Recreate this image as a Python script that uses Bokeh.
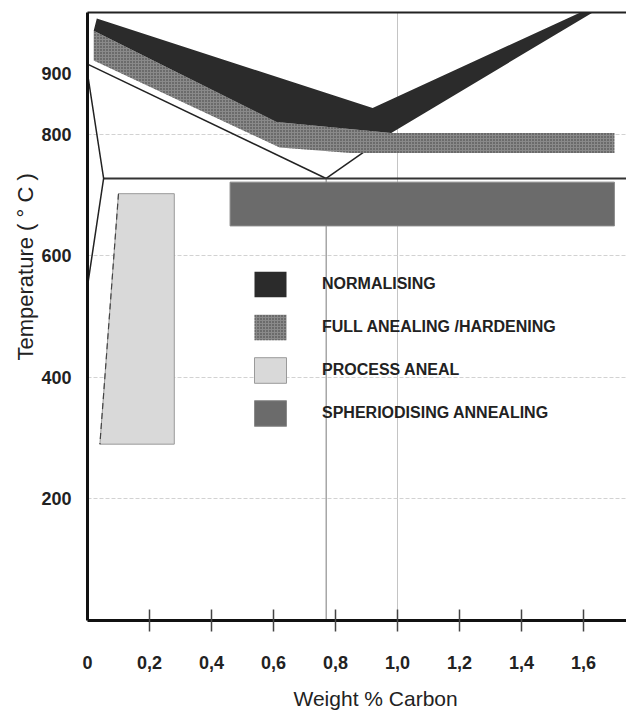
from bokeh.plotting import figure
from bokeh.models import Range1d, FixedTicker, LinearAxis, Legend, LegendItem, Title
from bokeh.embed import file_html
from bokeh.resources import INLINE

# ---- data (weight % carbon, temperature in deg C) ----
normalising_x = [0.03, 0.92, 1.59, 1.63, 0.98, 0.61, 0.02]
normalising_t = [990, 843, 1000, 1000, 802, 820, 970]

full_anneal_x = [0.02, 0.61, 0.98, 1.70, 1.70, 0.85, 0.62, 0.02]
full_anneal_t = [970, 820, 802, 802, 769, 769, 778, 921]

process_x = [0.10, 0.28, 0.28, 0.04]
process_t = [702, 702, 290, 290]

spheroid_left, spheroid_right = 0.46, 1.70
spheroid_bottom, spheroid_top = 649, 721

a3_x = [0.0, 0.77]
a3_t = [915, 727]
acm_x = [0.77, 0.98]
acm_t = [727, 802]
a1_x = [0.052, 1.75]
a1_t = [727, 727]
ferrite_x = [0.0, 0.052, 0.0]
ferrite_t = [900, 727, 550]
eutectoid_x = [0.77, 0.77]
eutectoid_t = [0, 727]

x_ticks = [0, 0.2, 0.4, 0.6, 0.8, 1.0, 1.2, 1.4, 1.6]
x_tick_labels = ["0", "0,2", "0,4", "0,6", "0,8", "1,0", "1,2", "1,4", "1,6"]
y_ticks = [200, 400, 600, 800, 900]
y_grid = [200, 400, 600, 800]
x_grid = [1.0]

legend_labels = ["NORMALISING", "FULL ANEALING /HARDENING", "PROCESS ANEAL",
                 "SPHERIODISING ANNEALING"]

FONT = "Liberation Sans"

p = figure(width=626, height=723, x_range=Range1d(0, 1.739), y_range=Range1d(0, 1000),
           output_backend="svg", toolbar_location=None,
           min_border_left=87, min_border_right=0, min_border_top=12, min_border_bottom=101)
p.outline_line_color = None
p.background_fill_color = "white"

# grids
p.xgrid.ticker = FixedTicker(ticks=x_grid)
p.xgrid.grid_line_color = "#c4c4c4"
p.xgrid.grid_line_width = 1
p.ygrid.ticker = FixedTicker(ticks=y_grid)
p.ygrid.grid_line_color = "#d2d2d2"
p.ygrid.grid_line_dash = "4 2"

# x axis
xa = p.xaxis[0]
xa.ticker = FixedTicker(ticks=x_ticks, minor_ticks=x_ticks[1:])
xa.major_label_overrides = {t: l for t, l in zip(x_ticks, x_tick_labels)}
xa.axis_line_width = 3
xa.axis_line_color = "#111111"
xa.major_tick_in = 0
xa.major_tick_out = 0
xa.minor_tick_in = 11
xa.minor_tick_out = 11
xa.minor_tick_line_color = "#444444"
xa.minor_tick_line_width = 1.5
xa.major_label_standoff = 24
xa.major_label_text_font = FONT
xa.major_label_text_font_style = "bold"
xa.major_label_text_font_size = "18px"
xa.major_label_text_color = "#222222"

# y axis
ya = p.yaxis[0]
ya.ticker = FixedTicker(ticks=y_ticks)
ya.axis_line_width = 3
ya.axis_line_color = "#111111"
ya.major_tick_in = 0
ya.major_tick_out = 0
ya.minor_tick_line_color = None
ya.major_label_standoff = 16
ya.major_label_text_font = FONT
ya.major_label_text_font_style = "bold"
ya.major_label_text_font_size = "18px"
ya.major_label_text_color = "#222222"

# top frame line
top = LinearAxis(ticker=FixedTicker(ticks=[]), axis_line_width=2, axis_line_color="#222222",
                 major_tick_line_color=None, minor_tick_line_color=None,
                 major_label_text_font_size="0px", major_label_standoff=0)
p.add_layout(top, "above")

# axis titles
xt = Title(text="Weight % Carbon", align="left", offset=206, text_font=FONT,
           text_font_size="21px", text_font_style="normal", text_color="#222222", standoff=27)
p.add_layout(xt, "below")
yt = Title(text="Temperature ( \u00b0 C )", align="left", offset=260, text_font=FONT,
           text_font_size="22px", text_font_style="normal", text_color="#222222", standoff=2)
p.add_layout(yt, "left")

# phase boundary lines
p.line(eutectoid_x, eutectoid_t, line_color="#7a7a7a", line_width=1)
p.line(a3_x, a3_t, line_color="#222222", line_width=1.5)
p.line(acm_x, acm_t, line_color="#222222", line_width=1.5)
p.line(a1_x, a1_t, line_color="#333333", line_width=2)
p.line(ferrite_x, ferrite_t, line_color="#222222", line_width=1.5)

# regions
r_proc = p.patch(process_x, process_t, fill_color="#d9d9d9", line_color="#9a9a9a", line_width=1)
p.line([process_x[0], process_x[3]], [process_t[0], process_t[3]],
       line_color="#444444", line_width=1.2, line_dash="6 4")
r_sph = p.quad(left=[spheroid_left], right=[spheroid_right], bottom=[spheroid_bottom],
               top=[spheroid_top], fill_color="#6b6b6b", line_color="#8a8a8a", line_width=1)
r_full = p.patch(full_anneal_x, full_anneal_t, fill_color="#8a8a8a", line_color=None,
                 hatch_pattern="dot", hatch_color="#3a3a3a", hatch_scale=3, hatch_weight=1)
r_norm = p.patch(normalising_x, normalising_t, fill_color="#2b2b2b", line_color=None)

legend = Legend(items=[LegendItem(label=legend_labels[0], renderers=[r_norm]),
                       LegendItem(label=legend_labels[1], renderers=[r_full]),
                       LegendItem(label=legend_labels[2], renderers=[r_proc]),
                       LegendItem(label=legend_labels[3], renderers=[r_sph])],
                location=(163, 191), padding=0, margin=0, spacing=11,
                glyph_width=40, glyph_height=32, label_standoff=32,
                label_text_font=FONT, label_text_font_style="bold",
                label_text_font_size="16px", label_text_color="#222222",
                border_line_alpha=0, background_fill_alpha=0)
p.add_layout(legend, "center")

open("out.html", "w").write(file_html(p, INLINE))
